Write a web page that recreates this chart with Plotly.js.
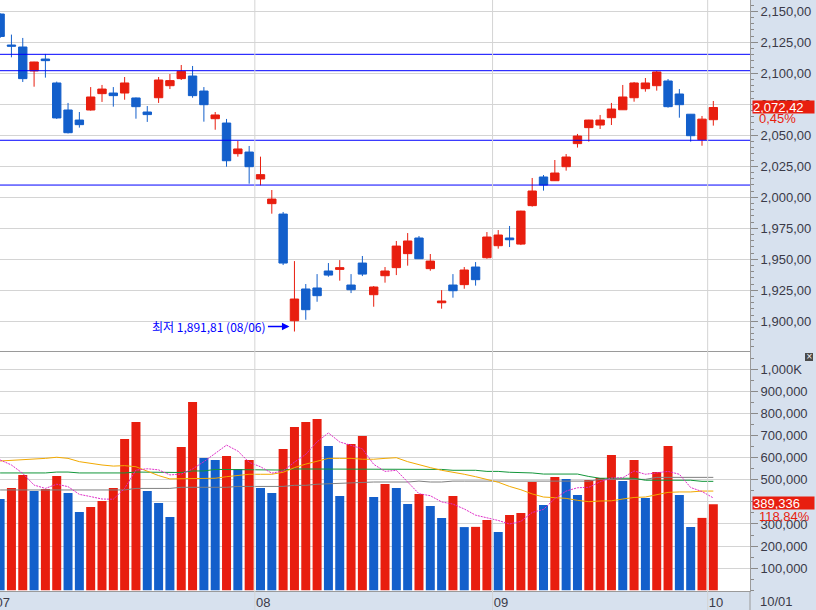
<!DOCTYPE html>
<html>
<head>
<meta charset="utf-8">
<script src="https://cdn.plot.ly/plotly-3.0.1.min.js"></script>
<style>html,body{margin:0;padding:0;background:#fff;}#chart{width:816px;height:610px;}</style>
</head>
<body>
<div id="chart"></div>
<script>
// ---------- data ----------
const dates = [
  '2019-07-01','2019-07-02','2019-07-03','2019-07-04','2019-07-05','2019-07-08','2019-07-09','2019-07-10','2019-07-11','2019-07-12',
  '2019-07-15','2019-07-16','2019-07-17','2019-07-18','2019-07-19','2019-07-22','2019-07-23','2019-07-24','2019-07-25','2019-07-26',
  '2019-07-29','2019-07-30','2019-07-31',
  '2019-08-01','2019-08-02','2019-08-05','2019-08-06','2019-08-07','2019-08-08','2019-08-09','2019-08-12','2019-08-13','2019-08-14',
  '2019-08-16','2019-08-19','2019-08-20','2019-08-21','2019-08-22','2019-08-23','2019-08-26','2019-08-27','2019-08-28','2019-08-29','2019-08-30',
  '2019-09-02','2019-09-03','2019-09-04','2019-09-05','2019-09-06','2019-09-09','2019-09-10','2019-09-11','2019-09-16','2019-09-17',
  '2019-09-18','2019-09-19','2019-09-20','2019-09-23','2019-09-24','2019-09-25','2019-09-26','2019-09-27','2019-09-30',
  '2019-10-01'
];
const open = [2147.8,2122.8,2121.2,2101.9,2111.5,2092.2,2070.4,2062.3,2070.4,2083.6,
  2084.1,2084.1,2080.1,2068.8,2080.3,2090.0,2095.7,2097.8,2085.7,2063.4,
  2059.9,2035.2,2036.5,2014.8,1994.9,1986.5,1900.5,1926.1,1926.9,1940.6,
  1941.9,1929.3,1947.0,1921.5,1936.8,1943.3,1954.6,1967.2,1942.5,1915.0,
  1929.3,1929.6,1943.8,1951.3,1961.0,1967.2,1962.3,1993.3,2016.4,2013.4,
  2024.7,2043.3,2056.2,2058.3,2064.2,2070.6,2080.3,2087.6,2090.0,2093.8,
  2083.3,2067.0,2046.5,2062.6];
const high = [2148.5,2131.2,2128.5,2109.3,2115.6,2093.3,2076.1,2068.8,2088.9,2090.6,
  2088.9,2097.0,2080.5,2073.6,2097.0,2099.4,2106.7,2105.9,2088.9,2068.8,
  2063.2,2045.4,2041.4,2032.8,2005.9,1988.2,1948.6,1930.1,1938.1,1947.0,
  1949.4,1938.1,1952.7,1928.5,1943.8,1964.8,1971.2,1968.8,1954.3,1925.2,
  1938.1,1943.8,1947.8,1972.0,1973.6,1976.9,1989.2,2015.6,2018.0,2030.1,
  2034.9,2051.1,2062.5,2066.4,2076.1,2090.6,2093.0,2096.2,2101.9,2095.4,
  2087.3,2067.2,2065.6,2077.7];
const low = [2128.5,2112.9,2093.0,2089.2,2096.5,2063.2,2051.5,2056.2,2069.9,2076.9,
  2073.1,2078.7,2063.4,2060.8,2076.1,2087.3,2094.6,2080.3,2061.0,2054.5,
  2024.7,2032.8,2011.0,2009.7,1986.8,1945.4,1891.81,1901.3,1915.8,1936.0,
  1932.8,1922.8,1936.5,1911.8,1931.2,1937.3,1944.9,1950.3,1940.8,1910.2,
  1919.1,1926.3,1928.8,1950.5,1958.6,1959.9,1961.5,1992.5,2005.4,2013.2,
  2021.5,2040.1,2044.9,2055.1,2058.3,2070.4,2077.1,2085.2,2086.0,2072.3,
  2064.2,2044.9,2041.6,2057.8];
const close = [2129.7,2121.9,2095.7,2109.1,2110.2,2064.0,2052.1,2058.6,2080.9,2087.3,
  2082.0,2092.2,2073.1,2066.7,2094.6,2094.1,2101.6,2082.0,2074.7,2066.4,
  2029.5,2039.0,2024.7,2018.3,1998.6,1947.0,1918.0,1909.4,1920.7,1937.3,
  1943.3,1925.5,1938.1,1927.7,1940.6,1960.7,1964.8,1950.5,1948.6,1916.4,
  1924.7,1941.4,1933.6,1968.0,1969.6,1965.8,1988.9,2005.1,2009.9,2019.6,
  2032.5,2049.4,2062.3,2062.3,2071.2,2080.9,2092.2,2092.2,2101.1,2073.1,
  2074.7,2049.7,2063.05,2072.42];
const volume = [413200,462900,521800,449300,458400,517200,440300,354300,377000,404100,
  462900,684700,761600,449300,395000,331700,648500,852100,598700,589600,
  607700,548900,589600,462900,440300,639400,739000,761600,775200,653000,
  426700,662000,698200,422200,481000,462900,390500,435800,381500,327200,
  426700,286000,287000,318100,263800,340700,349800,490100,386000,512700,
  503700,431300,499100,508200,612300,494600,589600,417700,535300,653000,
  431300,286400,327613,389336];
// volume moving averages as drawn (thousands)
const ma5 = [590,567,529,476,461,480,469,434,424,413,
  412,461,544,550,545,522,526,549,582,618,
  657,630,579,559,530,540,580,615,672,712,
  671,656,640,570,538,543,488,437,428,400,
  390,368,340,328,316,300,312,352,366,415,
  449,464,466,491,508,509,540,525,532,538,
  525,465,447,418];
const ma20 = [585,588,588,593,597,602,597,582,574,567,
  562,564,559,540,519,504,504,505,507,507,
  514,519,525,525,525,534,555,571,585,597,
  597,597,593,593,597,600,582,567,555,543,
  535,525,514,501,489,470,455,436,422,419,
  416,407,401,404,405,413,420,422,431,443,
  445,445,449,449];
const ma60 = [531,531,531,531,531,535,535,531,531,531,
  531,531,535,535,535,535,533,540,540,547,
  547,547,547,547,544,544,549,549,547,547,
  547,547,547,550,547,547,547,547,547,547,
  543,543,543,538,538,534,534,531,526,526,
  526,526,515,507,507,507,507,498,498,498,
  498,498,493,493];
const ma120 = [454,454,454,454,454,454,454,454,454,454,
  454,454,461,461,461,461,466,466,466,466,
  466,470,470,470,470,470,475,475,480,482,
  485,485,490,490,490,490,490,494,490,490,
  494,494,494,494,494,494,494,494,494,494,
  494,494,494,502,502,502,502,502,511,511,
  511,511,511,511];
const levelLines = [2115.3, 2102.1, 2046.0, 2009.9];
const volTickVals = [100000,200000,300000,400000,500000,600000,700000,800000,900000,1000000];
const volTickText = ['100,000','200,000','300,000','400,000','500,000','600,000','700,000','800,000','900,000','1,000K'];

// ---------- styling ----------
const RED = '#e81e0f', BLUE = '#135fcb', GRID = '#d4d4d4', AXL = '#9a9a9a', TXT = '#3a3a48';
const NARROW = "'Liberation Sans Narrow', 'Liberation Sans', Arial, sans-serif";
const KFONT = "'Noto Sans CJK KR', sans-serif";
const FS = 13;

function fmt2(v){ const p = v.toFixed(2).split('.'); return p[0].replace(/\B(?=(\d{3})+(?!\d))/g, ',') + ',' + p[1]; }
function fmtInt(v){ return String(Math.round(v)).replace(/\B(?=(\d{3})+(?!\d))/g, ','); }

const n = dates.length;
const volColors = volume.map((v,i) => i === 0 ? BLUE : (v >= volume[i-1] ? RED : BLUE));
const k = a => a.map(v => v * 1000);

// month starts for the date strip
const monthStarts = [], monthLabels = [];
dates.forEach((d,i) => { if (i === 0 || d.slice(5,7) !== dates[i-1].slice(5,7)) { monthStarts.push(d); monthLabels.push(d.slice(5,7)); } });
const monthBounds = monthStarts.map(d => dates.indexOf(d) - 0.5);

// lowest low
let lowIdx = 0; low.forEach((v,i) => { if (v < low[lowIdx]) lowIdx = i; });
const lowDate = dates[lowIdx];

const lastClose = close[n-1], prevClose = close[n-2];
const pct = (lastClose / prevClose - 1) * 100;
const volPct = volume[n-1] / volume[n-2] * 100;

const traces = [
  {type:'candlestick', x:dates, open:open, high:high, low:low, close:close, xaxis:'x', yaxis:'y',
   increasing:{line:{color:RED, width:1}, fillcolor:RED},
   decreasing:{line:{color:BLUE, width:1}, fillcolor:BLUE},
   whiskerwidth:0, hoverinfo:'skip', showlegend:false},
  {type:'bar', x:dates, y:volume, xaxis:'x2', yaxis:'y2', width:0.795,
   marker:{color:volColors, line:{width:0}}, hoverinfo:'skip', showlegend:false},
  {type:'scatter', mode:'lines', x:dates, y:k(ma120), xaxis:'x2', yaxis:'y2', line:{color:'#808080', width:1}, hoverinfo:'skip'},
  {type:'scatter', mode:'lines', x:dates, y:k(ma60), xaxis:'x2', yaxis:'y2', line:{color:'#12963a', width:1}, hoverinfo:'skip'},
  {type:'scatter', mode:'lines', x:dates, y:k(ma20), xaxis:'x2', yaxis:'y2', line:{color:'#f2a900', width:1}, hoverinfo:'skip'},
  {type:'scatter', mode:'lines', x:dates, y:k(ma5), xaxis:'x2', yaxis:'y2', line:{color:'#e02cc8', width:1, dash:'2px,1px'}, hoverinfo:'skip'}
];

const PLOT_H = 591, STRIP = 19;
const split = 240 / PLOT_H;

const shapes = [];
levelLines.forEach(v => shapes.push({type:'line', xref:'paper', yref:'y', x0:0, x1:1, y0:v, y1:v, line:{color:'#0000ff', width:1}}));
monthBounds.forEach(b => shapes.push({type:'line', xref:'x', yref:'paper', x0:b, x1:b, y0:-STRIP/PLOT_H, y1:1, line:{color:GRID, width:1}, layer:'above'}));
shapes.push({type:'line', xref:'paper', yref:'paper', x0:1, x1:1, y0:-STRIP/PLOT_H, y1:0, line:{color:AXL, width:1}});
shapes.push({type:'rect', xref:'paper', yref:'paper', x0:1+55/750, x1:1+63/750, y0:(PLOT_H-361)/PLOT_H, y1:(PLOT_H-353)/PLOT_H, fillcolor:'#4a4a4a', line:{width:0}});

const annotations = [
  {xref:'x', yref:'y', x:lowDate, y:low[lowIdx], text:'최저 ' + fmt2(low[lowIdx]) + ' (' + lowDate.slice(5,7) + '/' + lowDate.slice(8,10) + ')',
   showarrow:true, arrowhead:2, arrowsize:1, arrowwidth:1.5, arrowcolor:'#0000ff', ax:-80, ay:0, xshift:-5, yshift:5,
   font:{family:KFONT, size:12, color:'#0000ff'}},
  {xref:'paper', yref:'y', x:1, y:lastClose, xanchor:'left', yanchor:'middle', xshift:2, yshift:1, text:fmt2(lastClose),
   showarrow:false, bgcolor:RED, width:61, height:12, borderpad:0, align:'left', font:{family:NARROW, size:FS, color:'#ffffff'}},
  {xref:'paper', yref:'y', x:1, y:lastClose, xanchor:'left', yanchor:'middle', xshift:7, yshift:-11, text:fmt2(pct) + '%',
   showarrow:false, font:{family:NARROW, size:FS, color:RED}},
  {xref:'paper', yref:'y2', x:1, y:volume[n-1], xanchor:'left', yanchor:'middle', xshift:2, yshift:1, text:fmtInt(volume[n-1]),
   showarrow:false, bgcolor:RED, width:61, height:12, borderpad:0, align:'left', font:{family:NARROW, size:FS, color:'#ffffff'}},
  {xref:'paper', yref:'y2', x:1, y:volume[n-1], xanchor:'left', yanchor:'middle', xshift:7, yshift:-12, text:fmt2(volPct) + '%',
   showarrow:false, font:{family:NARROW, size:FS, color:RED}},
  {xref:'paper', yref:'paper', x:1, y:0, xanchor:'left', yanchor:'top', xshift:8, yshift:-1,
   text: dates[n-1].slice(5,7) + '/' + dates[n-1].slice(8,10), showarrow:false, font:{family:NARROW, size:FS, color:TXT}},
  {xref:'paper', yref:'paper', x:1+59/750, y:(PLOT_H-357)/PLOT_H, xanchor:'center', yanchor:'middle', text:'×', showarrow:false,
   font:{family:'DejaVu Sans', size:8, color:'#ffffff'}}
];

const layout = {
  width:816, height:610,
  margin:{l:0, r:66, t:0, b:STRIP, pad:0},
  paper_bgcolor:'#d7e1ee', plot_bgcolor:'#ffffff',
  showlegend:false, hovermode:false, dragmode:false,
  separators:',,',
  boxgap:0.26, boxgroupgap:0,
  font:{family:NARROW, size:FS, color:TXT},
  xaxis:{type:'category', domain:[0,1], anchor:'y', range:[-0.01, 66.24], showticklabels:false, ticks:'',
         showgrid:false, zeroline:false, showline:true, linecolor:AXL, linewidth:1, rangeslider:{visible:false}, fixedrange:true},
  yaxis:{domain:[split,1], anchor:'x', side:'right', range:[1876.1, 2159.1], tick0:1900, dtick:25, tickformat:',.2f',
         ticks:'outside', ticklen:7, tickcolor:'#8a8a8a', gridcolor:GRID, gridwidth:1, showline:true, linecolor:AXL,
         zeroline:false, fixedrange:true, tickfont:{family:NARROW, size:FS, color:TXT},
         minor:{tick0:1900, dtick:5, ticks:'outside', ticklen:3, tickcolor:'#8a8a8a', showgrid:false}},
  xaxis2:{type:'category', domain:[0,1], anchor:'y2', matches:'x', tickmode:'array', tickvals:monthStarts, ticktext:monthLabels,
          ticks:'', showgrid:false, zeroline:false, showline:true, linecolor:AXL, ticklabelposition:'outside right',
          ticklabelshift:-5, ticklabelstandoff:-1, ticklabeloverflow:'allow', tickfont:{family:NARROW, size:FS, color:TXT}, fixedrange:true},
  yaxis2:{domain:[0,split], anchor:'x2', side:'right', range:[-3200, 1082800], tickmode:'array', tickvals:volTickVals, ticktext:volTickText,
          ticks:'outside', ticklen:7, tickcolor:'#8a8a8a', gridcolor:GRID, gridwidth:1, showline:true, linecolor:AXL,
          zeroline:false, fixedrange:true, tickfont:{family:NARROW, size:FS, color:TXT},
          minor:{tickmode:'linear', tick0:0, dtick:50000, ticks:'outside', ticklen:3, tickcolor:'#8a8a8a', showgrid:false}},
  shapes:shapes,
  annotations:annotations
};

Plotly.newPlot('chart', traces, layout, {staticPlot:true, displayModeBar:false});
</script>
</body>
</html>
